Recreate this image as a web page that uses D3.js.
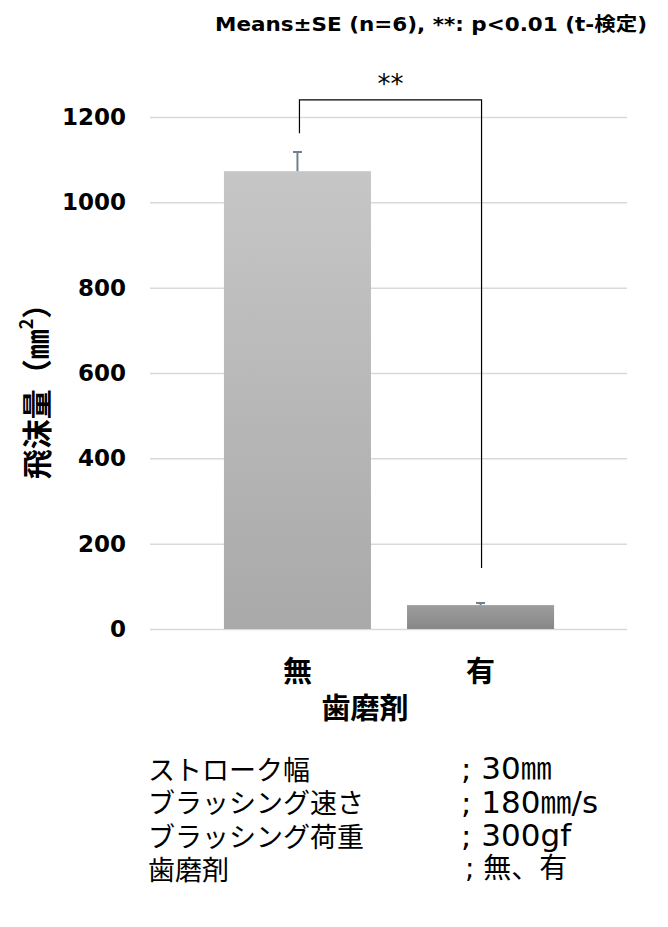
<!DOCTYPE html>
<html>
<head>
<meta charset="utf-8">
<script src="https://cdn.jsdelivr.net/npm/d3@7"></script>
<style>
  body { margin: 0; background: #fff; }
</style>
</head>
<body>
<script>
let categories = ["無", "有"];
let means = [1073, 56];
let errors = [45, 5];
let yTicks = [0, 200, 400, 600, 800, 1000, 1200];
// bracket: left leg bottom, top, right leg bottom (data units)
let bracket = [1162, 1240, 143];
let conditionNames = ["ストローク幅", "ブラッシング速さ", "ブラッシング荷重", "歯磨剤"];
let conditionValues = ["; 30㎜", "; 180㎜/s", "; 300gf", "; 無、有"];

function main() {

    let svg = d3.select("body").append("svg")
        .attr("width", 668)
        .attr("height", 927);

    let xScale = d3.scaleBand().domain(categories).range([206, 572])
        .paddingInner(0.197).paddingOuter(0.098);
    let yScale = d3.scaleLinear().domain([0, 1200]).range([629, 117]);

    let defs = svg.append("defs");
    let grads = [["g0", "#c6c6c6", "#a9a9a9"], ["g1", "#9d9d9d", "#878787"]];
    grads.forEach(g => {
        let lg = defs.append("linearGradient").attr("id", g[0])
            .attr("x1", 0).attr("y1", 0).attr("x2", 0).attr("y2", 1);
        lg.append("stop").attr("offset", "0%").attr("stop-color", g[1]);
        lg.append("stop").attr("offset", "100%").attr("stop-color", g[2]);
    });

    // gridlines + y labels
    let yAxis = d3.axisLeft(yScale).tickValues(yTicks)
        .tickSize(-(627 - 150)).tickPadding(24).tickFormat(d => d);
    let gy = svg.append("g")
        .attr("transform", "translate(150,0)")
        .call(yAxis);
    gy.select(".domain").remove();
    gy.selectAll("line").attr("stroke", "#d9d9d9").attr("stroke-width", 1.5);
    gy.selectAll("text")
        .attr("fill", "#000")
        .style("font-family", "'DejaVu Sans', Verdana, sans-serif")
        .style("font-weight", "bold")
        .style("font-size", "23px");

    // bars
    svg.selectAll("rect.bar")
        .data(categories)
        .enter()
        .append("rect")
        .attr("class", "bar")
        .attr("x", d => xScale(d))
        .attr("width", xScale.bandwidth())
        .attr("y", (d, i) => yScale(means[i]))
        .attr("height", (d, i) => yScale(0) - yScale(means[i]))
        .attr("fill", (d, i) => `url(#g${i})`);

    // error bars (plus only)
    categories.forEach((c, i) => {
        let cx = xScale(c) + xScale.bandwidth() / 2;
        svg.append("line")
            .attr("x1", cx).attr("x2", cx)
            .attr("y1", yScale(means[i])).attr("y2", yScale(means[i] + errors[i]))
            .attr("stroke", "#6f8090").attr("stroke-width", 2);
        svg.append("line")
            .attr("x1", cx - 4.5).attr("x2", cx + 4.5)
            .attr("y1", yScale(means[i] + errors[i])).attr("y2", yScale(means[i] + errors[i]))
            .attr("stroke", "#6f8090").attr("stroke-width", 2);
    });

    // significance bracket
    let bx0 = xScale(categories[0]) + xScale.bandwidth() / 2 + 2;
    let bx1 = xScale(categories[1]) + xScale.bandwidth() / 2 + 1;
    svg.append("path")
        .attr("d", `M${bx0},${yScale(bracket[0])}V${yScale(bracket[1])}H${bx1}V${yScale(bracket[2])}`)
        .attr("fill", "none")
        .attr("stroke", "#000")
        .attr("stroke-width", 1.2);
    svg.append("text")
        .attr("x", (bx0 + bx1) / 2)
        .attr("y", 93)
        .attr("text-anchor", "middle")
        .style("font-family", "'DejaVu Sans', Verdana, sans-serif")
        .style("font-size", "26px")
        .text("**");

    // title note
    svg.append("text")
        .attr("x", 647)
        .attr("y", 31)
        .attr("text-anchor", "end")
        .attr("textLength", 432)
        .attr("lengthAdjust", "spacingAndGlyphs")
        .style("font-family", "'DejaVu Sans', 'Noto Sans CJK JP', sans-serif")
        .style("font-weight", "bold")
        .style("font-size", "19px")
        .text("Means±SE (n=6), **: p<0.01 (t-検定)");

    // x labels
    svg.selectAll("text.xl")
        .data(categories)
        .enter()
        .append("text")
        .attr("class", "xl")
        .attr("x", d => xScale(d) + xScale.bandwidth() / 2)
        .attr("y", 669)
        .attr("text-anchor", "middle")
        .attr("dominant-baseline", "central")
        .style("font-family", "'Noto Sans CJK JP', sans-serif")
        .style("font-weight", "bold")
        .style("font-size", "29px")
        .text(d => d);

    svg.append("text")
        .attr("x", 365)
        .attr("y", 706)
        .attr("text-anchor", "middle")
        .attr("dominant-baseline", "central")
        .style("font-family", "'Noto Sans CJK JP', sans-serif")
        .style("font-weight", "bold")
        .style("font-size", "29px")
        .text("歯磨剤");

    // y title
    let yt = svg.append("text")
        .attr("transform", "translate(35,384) rotate(-90)")
        .attr("text-anchor", "middle")
        .attr("dominant-baseline", "central")
        .style("font-family", "'Noto Sans CJK JP', sans-serif")
        .style("font-weight", "bold")
        .style("font-size", "30px");
    yt.append("tspan").text("飛沫量（㎜");
    yt.append("tspan").attr("dy", -10).style("font-size", "18px").text("2");
    yt.append("tspan").attr("dy", 10).text("）");

    // conditions
    svg.selectAll("text.cn")
        .data(conditionNames)
        .enter()
        .append("text")
        .attr("class", "cn")
        .attr("x", 148)
        .attr("y", (d, i) => 768 + i * 33.5)
        .attr("dominant-baseline", "central")
        .style("font-family", "'Noto Sans CJK JP', sans-serif")
        .style("font-size", "27px")
        .text(d => d);

    svg.selectAll("text.cv")
        .data(conditionValues)
        .enter()
        .append("text")
        .attr("class", "cv")
        .attr("x", (d, i) => i == 3 ? 465 : 461)
        .attr("y", (d, i) => 768 + i * 33.5)
        .attr("dominant-baseline", "central")
        .style("font-family", "'DejaVu Sans', 'Noto Sans CJK JP', sans-serif")
        .style("font-size", (d, i) => i == 3 ? "28px" : "31px")
        .text(d => d);
}

main()
</script>
</body>
</html>
